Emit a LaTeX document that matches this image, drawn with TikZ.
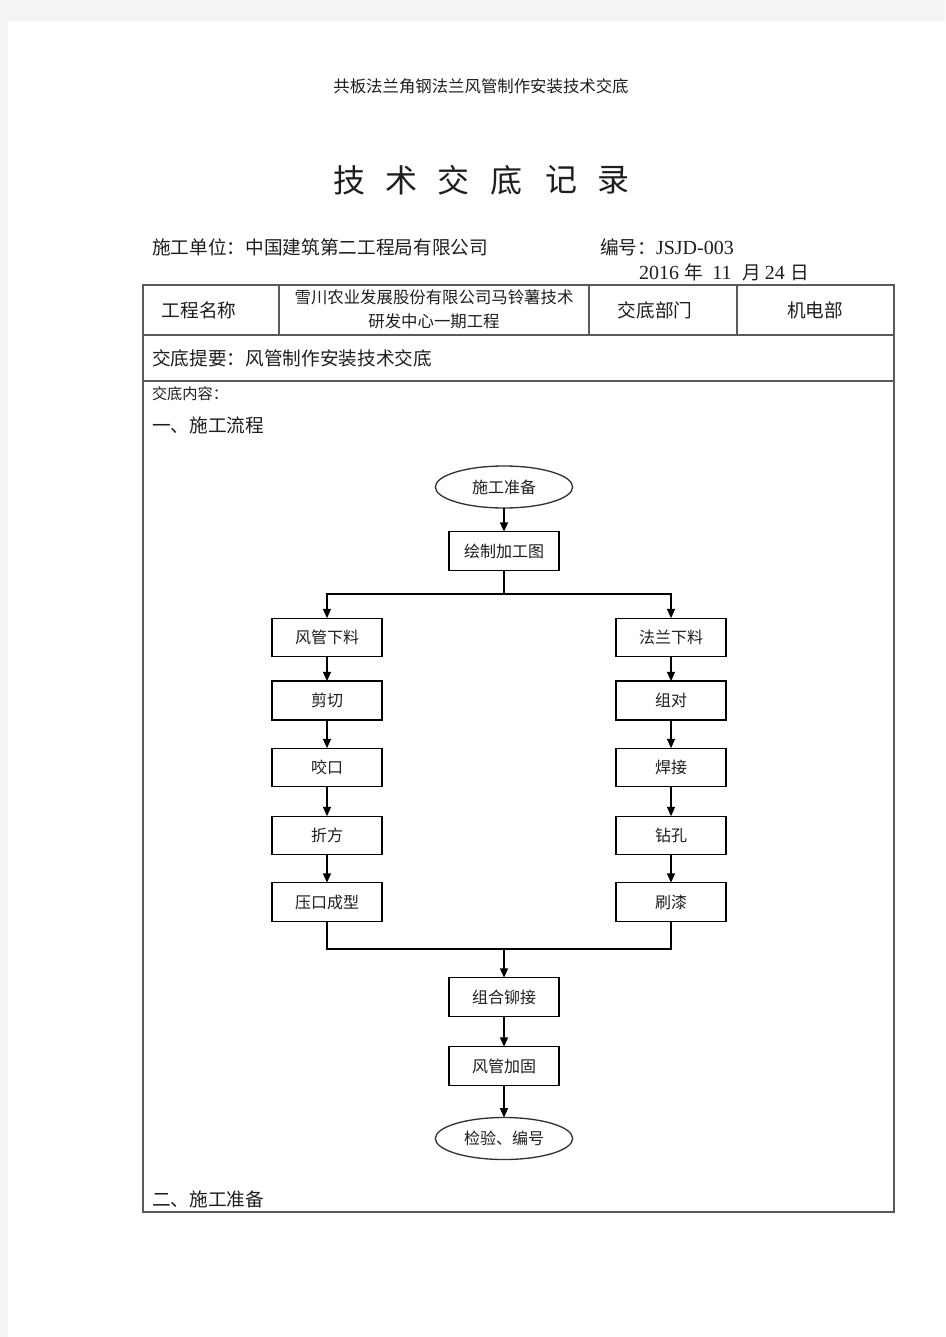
\documentclass[tikz,border=0pt]{standalone}
\usepackage{fontspec}
\usetikzlibrary{arrows.meta,shapes.geometric}
\newfontfamily\cjk{Noto Sans CJK SC}
\newfontfamily\lat{Liberation Serif}
\definecolor{pagegray}{HTML}{F4F4F4}
\definecolor{rule}{HTML}{5A5A5A}
\definecolor{txt}{HTML}{1E1E1E}
\newcommand{\latnum}[1]{{\lat\fontsize{15}{16}\selectfont #1}}
\begin{document}
\begin{tikzpicture}[x=0.75pt,y=-0.75pt,
  every node/.style={inner sep=0pt,outer sep=0pt,text=txt},
  box/.style={draw=black,line width=0.9pt,rectangle,minimum width=82.5pt,minimum height=29pt,font=\cjk\fontsize{12}{14}\selectfont},
  boldbox/.style={box,line width=1.5pt},
  oval/.style={draw=black!80,line width=1pt,ellipse,minimum width=103pt,minimum height=31.5pt,font=\cjk\fontsize{12}{14}\selectfont},
  arr/.style={line width=1pt,-{Triangle[length=7pt,width=6pt]}},
  ln/.style={line width=1pt},
  body/.style={font=\cjk\fontsize{14}{16}\selectfont,anchor=west},
  titlech/.style={font=\cjk\fontsize{24}{26}\selectfont}]
\useasboundingbox (0,0) rectangle (945,1337);
\fill[pagegray] (0,0) rectangle (945,1337);
\fill[white] (8,21) rectangle (945,1337);

% header
\node[font=\cjk\fontsize{12.3}{14}\selectfont] (hdr) at (481,86) {共板法兰角钢法兰风管制作安装技术交底};
% title
\node[titlech] (t1) at (349,180) {技};
\node[titlech] (t2) at (401,180) {术};
\node[titlech] (t3) at (453.5,180) {交};
\node[titlech] (t4) at (506,180) {底};
\node[titlech] (t5) at (561,180) {记};
\node[titlech] (t6) at (613,180) {录};

\node[body] (unit) at (152,247) {施工单位：中国建筑第二工程局有限公司};
\node[body] (num) at (600,247) {编号：\latnum{JSJD-003}};
\node[body] (date) at (639,272) {\latnum{2016}\hspace{4pt}年\hspace{7pt}\latnum{11}\hspace{8pt}月\hspace{3pt}\latnum{24}\hspace{4pt}日};

% table
\draw[rule,line width=1.1pt] (143,285) rectangle (894,1212);
\draw[rule,line width=1.1pt] (143,335) -- (894,335);
\draw[rule,line width=1.1pt] (143,381) -- (894,381);
\draw[rule,line width=1.1pt] (279,285) -- (279,335);
\draw[rule,line width=1.1pt] (589,285) -- (589,335);
\draw[rule,line width=1.1pt] (737,285) -- (737,335);

\node[font=\cjk\fontsize{14}{16}\selectfont] (c1) at (199,310) {工程名称};
\node[font=\cjk\fontsize{12.3}{14}\selectfont] (c2a) at (434,297) {雪川农业发展股份有限公司马铃薯技术};
\node[font=\cjk\fontsize{12.3}{14}\selectfont] (c2b) at (434,321) {研发中心一期工程};
\node[font=\cjk\fontsize{14}{16}\selectfont] (c3) at (655,310) {交底部门};
\node[font=\cjk\fontsize{14}{16}\selectfont] (c4) at (815,310) {机电部};

\node[body] (tiyao) at (152,358) {交底提要：风管制作安装技术交底};
\node[body,font=\cjk\fontsize{11.4}{13}\selectfont] (neirong) at (152,394) {交底内容：};
\node[body] (s1) at (152,425) {一、施工流程};
\node[body] (s2) at (152,1199) {二、施工准备};

% flowchart
\node[oval] (start) at (504,487) {施工准备};
\node[box] (draw) at (504,551) {绘制加工图};
\node[box] (fg) at (327,637.5) {风管下料};
\node[boldbox] (jq) at (327,700.5) {剪切};
\node[box] (yk) at (327,767.5) {咬口};
\node[box] (zf) at (327,835.5) {折方};
\node[box] (ykcx) at (327,902) {压口成型};
\node[box] (fl) at (671,637.5) {法兰下料};
\node[boldbox] (zd) at (671,700.5) {组对};
\node[box] (hj) at (671,767.5) {焊接};
\node[box] (zk) at (671,835.5) {钻孔};
\node[box] (sq) at (671,902) {刷漆};
\node[box] (zhmj) at (504,997) {组合铆接};
\node[box] (fgjg) at (504,1066) {风管加固};
\node[oval] (end) at (504,1138.5) {检验、编号};

\coordinate (j1) at (504,594);
\coordinate (j2) at (504,949);
\draw[arr] (start) -- (draw);
\draw[ln] (draw) -- (j1);
\draw[arr] (j1) -| (fg);
\draw[arr] (j1) -| (fl);
\draw[arr] (fg) -- (jq);
\draw[arr] (jq) -- (yk);
\draw[arr] (yk) -- (zf);
\draw[arr] (zf) -- (ykcx);
\draw[arr] (fl) -- (zd);
\draw[arr] (zd) -- (hj);
\draw[arr] (hj) -- (zk);
\draw[arr] (zk) -- (sq);
\draw[ln] (ykcx) |- (j2);
\draw[ln] (sq) |- (j2);
\draw[arr] (j2) -- (zhmj);
\draw[arr] (zhmj) -- (fgjg);
\draw[arr] (fgjg) -- (end);
\end{tikzpicture}
\end{document}
